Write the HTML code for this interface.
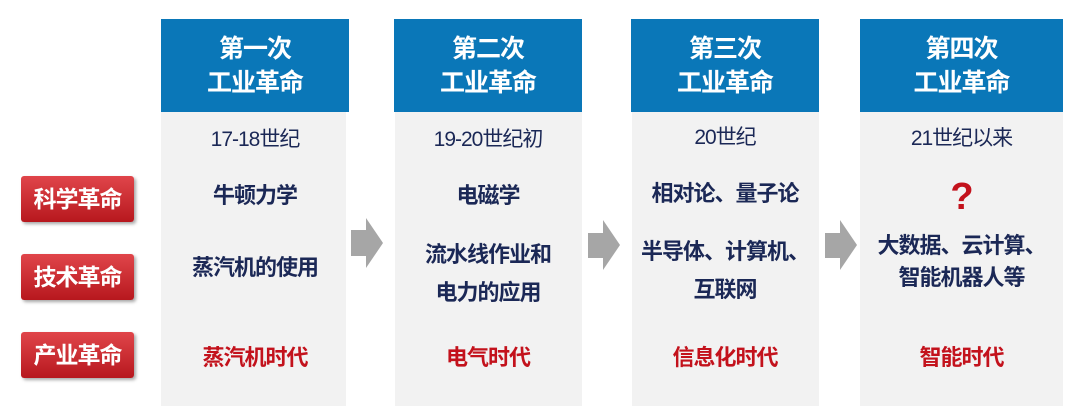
<!DOCTYPE html>
<html><head><meta charset="utf-8"><style>
body{margin:0;width:1080px;height:417px;background:#fff;position:relative;overflow:hidden;font-family:"Liberation Sans","Noto Sans CJK SC",sans-serif;font-weight:bold}
.col{position:absolute;top:112px;height:294px;background:#f2f2f2}
.hd{position:absolute;top:19px;height:93px;background:#0a77b8;color:#fff;font-size:25px;line-height:34px;text-align:center;display:flex;flex-direction:column;justify-content:center;letter-spacing:-1px}
.t{position:absolute;text-align:center;color:#1b2856;font-size:22px;line-height:38px;transform:translateY(-50%);letter-spacing:-1px}
.d{font-size:21px;font-weight:normal;color:#1b2856}
.r{color:#c3121c}
.lab{position:absolute;left:21px;width:113px;height:46px;background:linear-gradient(#e0454a,#b7181e);border-radius:3px;color:#fff;font-size:23px;line-height:46px;text-align:center;box-shadow:2px 2px 3px rgba(0,0,0,.35);letter-spacing:-1px}
</style></head><body>
<div class="lab" style="top:176px">科学革命</div>
<div class="lab" style="top:254px">技术革命</div>
<div class="lab" style="top:332px">产业革命</div>

<div class="col" style="left:161px;width:185px"></div>
<div class="hd" style="left:161px;width:188px">第一次<br>工业革命</div>
<div class="col" style="left:395px;width:187px"></div>
<div class="hd" style="left:394px;width:188px">第二次<br>工业革命</div>
<div class="col" style="left:632px;width:187px"></div>
<div class="hd" style="left:631px;width:188px">第三次<br>工业革命</div>
<div class="col" style="left:860px;width:203px"></div>
<div class="hd" style="left:860px;width:203px">第四次<br>工业革命</div>

<svg width="1080" height="417" style="position:absolute;left:0;top:0">
<polygon points="351,230 366,230 366,218 383,243 366,268 366,256 351,256" fill="#a6a6a6"/>
<polygon points="588,233 603,233 603,220 620,245 603,270 603,258 588,258" fill="#a6a6a6"/>
<polygon points="825,233 840,233 840,220 857,245 840,270 840,258 825,258" fill="#a6a6a6"/>
</svg>

<div class="t d" style="left:161px;width:188px;top:140px">17-18世纪</div>
<div class="t" style="left:161px;width:188px;top:196px">牛顿力学</div>
<div class="t" style="left:161px;width:188px;top:268px">蒸汽机的使用</div>
<div class="t r" style="left:161px;width:188px;top:358px">蒸汽机时代</div>

<div class="t d" style="left:394px;width:188px;top:140px">19-20世纪初</div>
<div class="t" style="left:394px;width:188px;top:196px">电磁学</div>
<div class="t" style="left:394px;width:188px;top:274px">流水线作业和<br>电力的应用</div>
<div class="t r" style="left:394px;width:188px;top:358px">电气时代</div>

<div class="t d" style="left:631px;width:188px;top:138px">20世纪</div>
<div class="t" style="left:631px;width:188px;top:194px">相对论、量子论</div>
<div class="t" style="left:631px;width:188px;top:271px">半导体、计算机、<br>互联网</div>
<div class="t r" style="left:631px;width:188px;top:358px">信息化时代</div>

<div class="t d" style="left:860px;width:203px;top:139px">21世纪以来</div>
<div class="t r" style="left:860px;width:203px;top:197px;font-size:38px">?</div>
<div class="t" style="left:860px;width:203px;top:262px;line-height:32px">大数据、云计算、<br>智能机器人等</div>
<div class="t r" style="left:860px;width:203px;top:358px">智能时代</div>
</body></html>
